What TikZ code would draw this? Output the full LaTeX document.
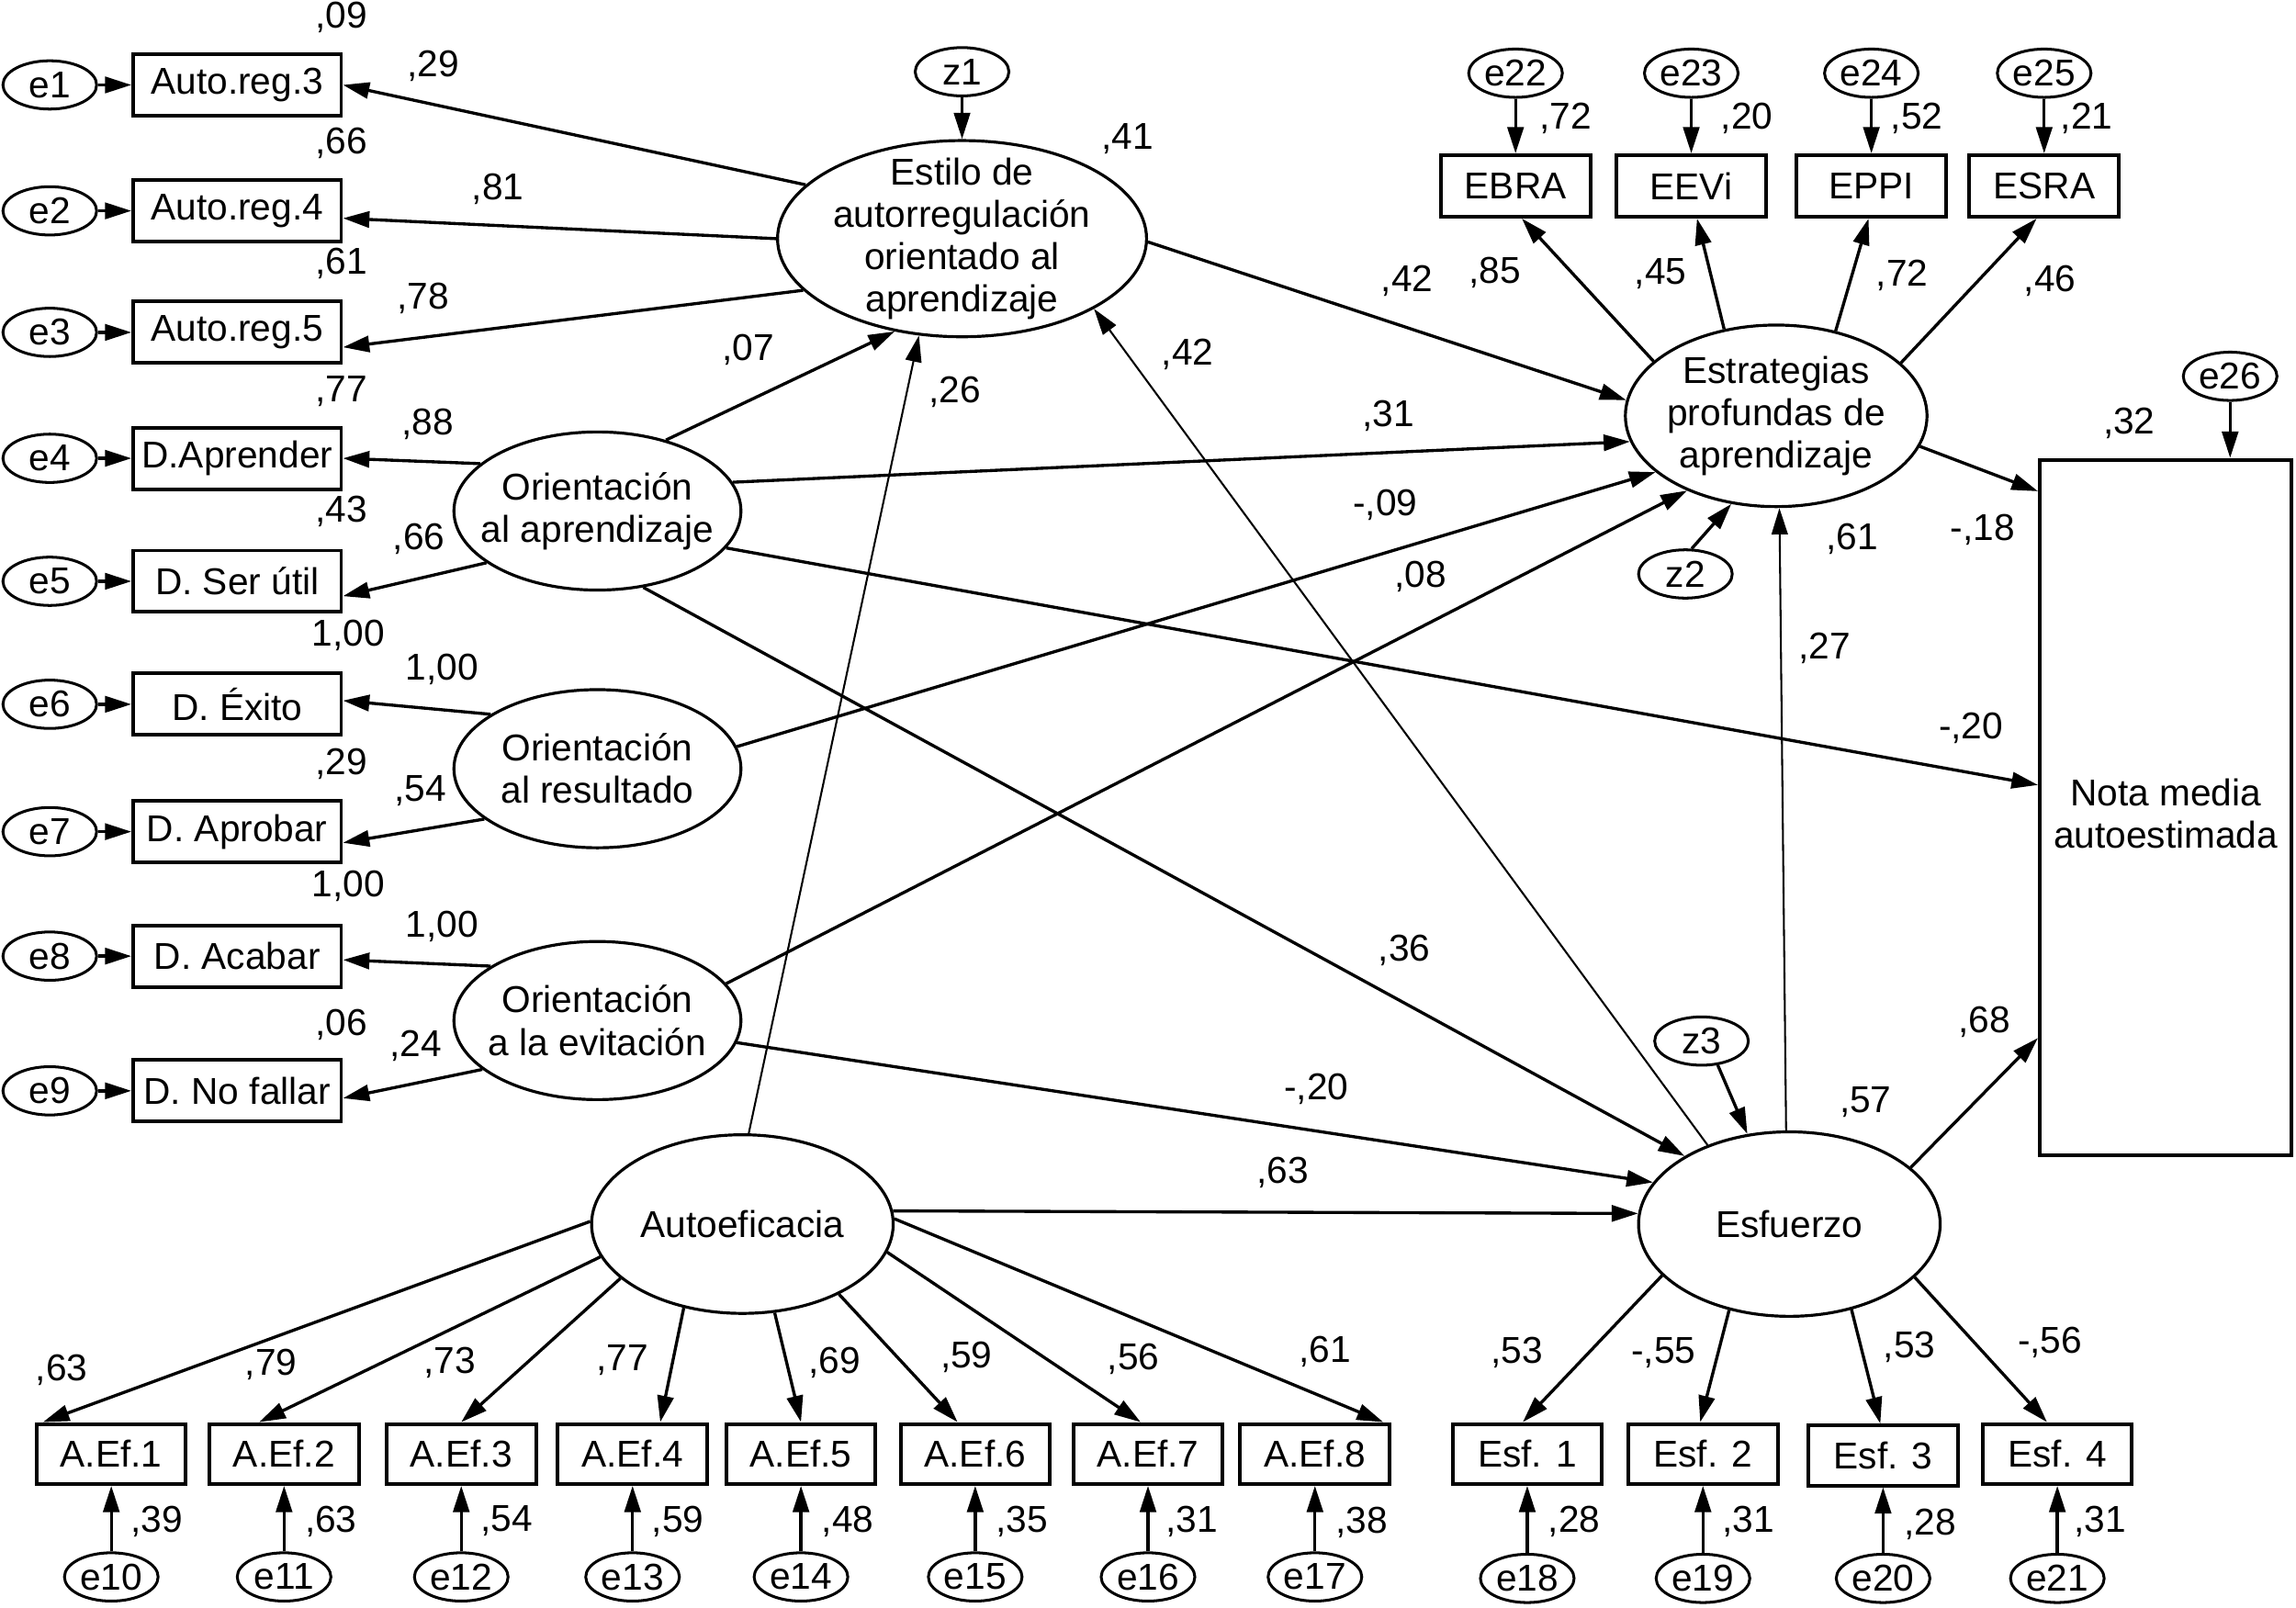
\documentclass[tikz,border=0pt]{standalone}
\usepackage{fontspec}
\setmainfont{Liberation Sans}
\usetikzlibrary{shapes.geometric,arrows.meta}
\tikzset{
 lat/.style={ellipse, draw, line width=2pt, inner sep=0pt, minimum width=196pt, minimum height=108pt},
 err/.style={ellipse, draw, line width=1.9pt, inner sep=0pt, minimum width=64pt, minimum height=33pt},
 obsL/.style={rectangle, draw, line width=2.5pt, inner sep=0pt, minimum width=142pt, minimum height=42pt},
 obsS/.style={rectangle, draw, line width=2.5pt, inner sep=0pt, minimum width=102pt, minimum height=41pt},
 lt/.style={align=center, inner sep=0pt},
 lbl/.style={inner sep=0pt},
 arr/.style={line width=2.1pt, -{Triangle[length=18pt,width=11pt]}},
 tarr/.style={line width=1.3pt, -{Triangle[length=18pt,width=11pt]}},
}
\begin{document}
\begin{tikzpicture}[x=1pt,y=-1pt, every node/.append style={font=\fontsize{25.5}{29}\selectfont}]
\fill[white] (0,0) rectangle (1568,1097.6);
\useasboundingbox (0,0) rectangle (1568,1097.6);

% left indicator boxes
\node[obsL] (AR3) at (162,58) {Auto.reg.3};
\node[obsL] (AR4) at (162,144) {Auto.reg.4};
\node[obsL] (AR5) at (162,227) {Auto.reg.5};
\node[obsL] (DAp) at (162,313) {D.Aprender};
\node[obsL] (DSe) at (162,397) {D. Ser útil};
\node[obsL] (DEx) at (162,481) {D. Éxito};
\node[obsL] (DApr) at (162,568) {D. Aprobar};
\node[obsL] (DAc) at (162,653) {D. Acabar};
\node[obsL] (DNo) at (162,745) {D. No fallar};
\node[err] (e1) at (34,58) {e1};
\node[err] (e2) at (34,144) {e2};
\node[err] (e3) at (34,227) {e3};
\node[err] (e4) at (34,313) {e4};
\node[err] (e5) at (34,397) {e5};
\node[err] (e6) at (34,481) {e6};
\node[err] (e7) at (34,568) {e7};
\node[err] (e8) at (34,653) {e8};
\node[err] (e9) at (34,745) {e9};

% latent variables
\node[lat, minimum width=252pt, minimum height=134pt, label={[lt]center:Estilo de\\autorregulación\\orientado al\\aprendizaje}] (Estilo) at (657,163) {};
\node[err] (z1) at (657,49) {z1};
\node[lat, label={[lt]center:Orientación\\al aprendizaje}] (OA) at (408,349) {};
\node[lat, label={[lt]center:Orientación\\al resultado}] (OR) at (408,525) {};
\node[lat, label={[lt]center:Orientación\\a la evitación}] (OE) at (408,697) {};
\node[lat, minimum width=206pt, minimum height=122pt] (Autoef) at (507,836) {Autoeficacia};
\node[lat, minimum width=206pt, minimum height=124pt, label={[lt]center:Estrategias\\profundas de\\aprendizaje}] (Estr) at (1213,284) {};
\node[err] (z2) at (1151,392) {z2};
\node[lat, minimum width=206pt, minimum height=126pt] (Esf) at (1222,836) {Esfuerzo};
\node[err] (z3) at (1162,711) {z3};

% strategy indicators
\node[obsS, minimum height=42pt] (EBRA) at (1035,127) {EBRA};
\node[obsS, minimum height=42pt] (EEVi) at (1155,127) {EEVi};
\node[obsS, minimum height=42pt] (EPPI) at (1278,127) {EPPI};
\node[obsS, minimum height=42pt] (ESRA) at (1396,127) {ESRA};
\node[err] (e22) at (1035,50) {e22};
\node[err] (e23) at (1155,50) {e23};
\node[err] (e24) at (1278,50) {e24};
\node[err] (e25) at (1396,50) {e25};

% outcome
\node[rectangle, draw, line width=2.5pt, minimum width=172pt, minimum height=475pt, inner sep=0pt, label={[lt,yshift=-4pt]center:Nota media\\autoestimada}] (Nota) at (1479,551.5) {};
\node[err] (e26) at (1523,257) {e26};

% self-efficacy indicators
\node[obsS] (AEf1) at (76,993) {A.Ef.1};
\node[obsS] (AEf2) at (194,993) {A.Ef.2};
\node[obsS] (AEf3) at (315,993) {A.Ef.3};
\node[obsS] (AEf4) at (432,993) {A.Ef.4};
\node[obsS] (AEf5) at (547,993) {A.Ef.5};
\node[obsS] (AEf6) at (666,993) {A.Ef.6};
\node[obsS] (AEf7) at (784,993) {A.Ef.7};
\node[obsS] (AEf8) at (898,993) {A.Ef.8};
\node[err] (e10) at (76,1077) {e10};
\node[err] (e11) at (194,1077) {e11};
\node[err] (e12) at (315,1077) {e12};
\node[err] (e13) at (432,1077) {e13};
\node[err] (e14) at (547,1077) {e14};
\node[err] (e15) at (666,1077) {e15};
\node[err] (e16) at (784,1077) {e16};
\node[err] (e17) at (898,1077) {e17};

% effort indicators
\node[obsS] (Esf1) at (1043,993) {Esf. 1};
\node[obsS] (Esf2) at (1163,993) {Esf. 2};
\node[obsS] (Esf3) at (1286,994) {Esf. 3};
\node[obsS] (Esf4) at (1405,993) {Esf. 4};
\node[err] (e18) at (1043,1078) {e18};
\node[err] (e19) at (1163,1078) {e19};
\node[err] (e20) at (1286,1078) {e20};
\node[err] (e21) at (1405,1078) {e21};

% error arrows
\foreach \e/\b in {e1/AR3,e2/AR4,e3/AR5,e4/DAp,e5/DSe,e6/DEx,e7/DApr,e8/DAc,e9/DNo,
  e10/AEf1,e11/AEf2,e12/AEf3,e13/AEf4,e14/AEf5,e15/AEf6,e16/AEf7,e17/AEf8,
  e18/Esf1,e19/Esf2,e20/Esf3,e21/Esf4,e22/EBRA,e23/EEVi,e24/EPPI,e25/ESRA}
  \draw[arr] (\e) -- (\b);
\draw[arr] (e26.south) -- (e26.south |- Nota.north);
\draw[arr] (z1) -- (Estilo);
\draw[arr] (z2.76) -- (Estr.243);
\draw[arr] (z3.304) -- (Esf.115);

% loadings left
\draw[arr] (Estilo.161) -- (AR3.east);
\draw[arr] (Estilo.180) -- (AR4.-4);
\draw[arr] (Estilo.198) -- (AR5.-8);
\draw[arr] (OA.158) -- (DAp.east);
\draw[arr] (OA.205) -- (DSe.-8);
\draw[arr] (OR.153) -- (DEx.2);
\draw[arr] (OR.204) -- (DApr.-6);
\draw[arr] (OE.153) -- (DAc.-2);
\draw[arr] (OE.203) -- (DNo.-4);

% structural paths
\draw[arr] (OA.46) -- (Estilo.234);
\draw[tarr] (Autoef.86) -- (Estilo.246);
\draw[tarr] (Esf.136) -- (Estilo.332);
\draw[arr] (Estilo.-1) -- (Estr.174);
\draw[arr] (OA.12) -- (Estr.190);
\draw[arr] (OR.9) -- (Estr.205);
\draw[arr] (OE.16) -- (Estr.220);
\draw[tarr] (Esf.92) -- (Estr.272);
\draw[arr] (Estr.348) -- (Nota.112);
\draw[arr] (OA.344) -- (Nota.170);
\draw[arr] (Esf.25) -- (Nota.241);
\draw[arr] (OA.301) -- (Esf.147);
\draw[arr] (OE.351) -- (Esf.163);
\draw[arr] (Autoef.5) -- (Esf.176);

% strategy loadings
\draw[arr] (Estr.156) -- (EBRA.-79);
\draw[arr] (Estr.121) -- (EEVi.-80);
\draw[arr] (Estr.55) -- (EPPI.-95);
\draw[arr] (Estr.23) -- (ESRA.-103);

% self-efficacy loadings
\draw[arr] (Autoef.179) -- (AEf1.155);
\draw[arr] (Autoef.193) -- (AEf2.128);
\draw[arr] (Autoef.204) -- (AEf3.north);
\draw[arr] (Autoef.235) -- (AEf4.49);
\draw[arr] (Autoef.290) -- (AEf5.north);
\draw[arr] (Autoef.324) -- (AEf6.119);
\draw[arr] (Autoef.349) -- (AEf7.103);
\draw[arr] (Autoef.2) -- (AEf8.25);

% effort loadings
\draw[arr] (Esf.202) -- (Esf1.98);
\draw[arr] (Esf.235) -- (Esf2.95);
\draw[arr] (Esf.306) -- (Esf3.95);
\draw[arr] (Esf.337) -- (Esf4.108);

% coefficient labels
\node[lbl] (c1) at (233,12) {,09};
\node[lbl] (c2) at (296,45) {,29};
\node[lbl] (c3) at (233,98) {,66};
\node[lbl] (c4) at (340,129) {,81};
\node[lbl] (c5) at (233,180) {,61};
\node[lbl] (c6) at (289,204) {,78};
\node[lbl] (c7) at (233,267) {,77};
\node[lbl] (c8) at (292,290) {,88};
\node[lbl] (c9) at (233,349) {,43};
\node[lbl] (c10) at (286,368) {,66};
\node[lbl] (c11) at (238,434) {1,00};
\node[lbl] (c12) at (302,457) {1,00};
\node[lbl] (c13) at (233,522) {,29};
\node[lbl] (c14) at (287,540) {,54};
\node[lbl] (c15) at (238,605) {1,00};
\node[lbl] (c16) at (302,633) {1,00};
\node[lbl] (c17) at (233,700) {,06};
\node[lbl] (c18) at (284,714) {,24};

\node[lbl] (c19) at (770,95) {,41};
\node[lbl] (c20) at (511,239) {,07};
\node[lbl] (c21) at (652,268) {,26};
\node[lbl] (c22) at (811,242) {,42};
\node[lbl] (c23) at (961,192) {,42};
\node[lbl] (c24) at (948,284) {,31};
\node[lbl] (c25) at (946,345) {-,09};
\node[lbl] (c26) at (970,394) {,08};
\node[lbl] (c27) at (959,649) {,36};
\node[lbl] (c28) at (899,744) {-,20};
\node[lbl] (c29) at (876,801) {,63};

\node[lbl] (c30) at (1021,186) {,85};
\node[lbl] (c31) at (1134,187) {,45};
\node[lbl] (c32) at (1299,188) {,72};
\node[lbl] (c33) at (1400,192) {,46};
\node[lbl] (c34) at (1069,81) {,72};
\node[lbl] (c35) at (1193,81) {,20};
\node[lbl] (c36) at (1309,81) {,52};
\node[lbl] (c37) at (1425,81) {,21};
\node[lbl] (c38) at (1454,289) {,32};
\node[lbl] (c39) at (1354,362) {-,18};
\node[lbl] (c40) at (1265,368) {,61};
\node[lbl] (c41) at (1246,443) {,27};
\node[lbl] (c42) at (1346,497) {-,20};
\node[lbl] (c43) at (1355,698) {,68};
\node[lbl] (c44) at (1274,753) {,57};

\node[lbl] (c45) at (42,936) {,63};
\node[lbl] (c46) at (185,932) {,79};
\node[lbl] (c47) at (307,931) {,73};
\node[lbl] (c48) at (425,929) {,77};
\node[lbl] (c49) at (570,931) {,69};
\node[lbl] (c50) at (660,927) {,59};
\node[lbl] (c51) at (774,928) {,56};
\node[lbl] (c52) at (905,923) {,61};
\node[lbl] (c53) at (1036,924) {,53};
\node[lbl] (c54) at (1136,924) {-,55};
\node[lbl] (c55) at (1304,920) {,53};
\node[lbl] (c56) at (1400,917) {-,56};

\node[lbl] (c57) at (107,1039) {,39};
\node[lbl] (c58) at (226,1039) {,63};
\node[lbl] (c59) at (346,1039) {,54};
\node[lbl] (c60) at (463,1039) {,59};
\node[lbl] (c61) at (579,1039) {,48};
\node[lbl] (c62) at (698,1039) {,35};
\node[lbl] (c63) at (814,1039) {,31};
\node[lbl] (c64) at (930,1040) {,38};
\node[lbl] (c65) at (1075,1039) {,28};
\node[lbl] (c66) at (1194,1039) {,31};
\node[lbl] (c67) at (1318,1041) {,28};
\node[lbl] (c68) at (1434,1039) {,31};
\end{tikzpicture}
\end{document}
